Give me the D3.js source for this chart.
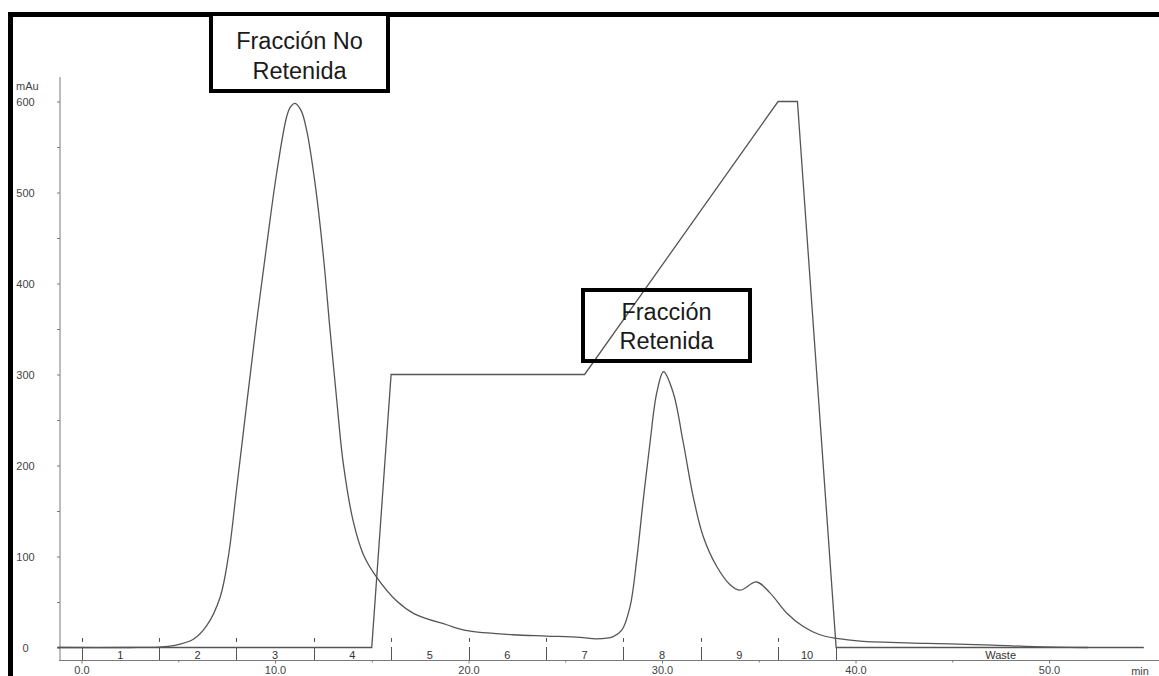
<!DOCTYPE html>
<html>
<head>
<meta charset="utf-8">
<script src="https://cdn.jsdelivr.net/npm/d3@7"></script>
<style>
  body { margin: 0; background: #fff; }
  svg { display: block; font-family: "Liberation Sans", Arial, sans-serif; }
</style>
</head>
<body>
<svg width="1159" height="676"></svg>
<script>
// chromatogram trace, [min, mAu]
const uvTrace = [
  [-1.2, 0], [2.5, 0], [4.0, 0.5], [4.74, 2], [5.78, 9], [6.47, 24], [7.16, 55], [7.59, 100],
  [8.02, 175], [8.54, 268], [9.05, 358], [9.57, 442], [10.09, 522], [10.6, 583], [10.8, 594],
  [11.03, 598], [11.35, 590], [11.64, 568], [12.07, 510], [12.5, 430], [12.84, 350], [13.19, 272],
  [13.53, 202], [14.05, 138], [14.57, 102], [15.26, 77], [16.29, 51], [17.2, 37], [18.87, 25],
  [19.94, 18.5], [22.3, 14], [24.04, 12.6], [25.76, 11.2], [26.63, 9.5], [27.48, 12], [27.92, 19],
  [28.35, 45], [28.69, 96], [29.03, 162], [29.38, 225], [29.73, 280], [30.08, 303], [30.58, 280],
  [31.1, 225], [31.62, 165], [32.13, 122], [32.83, 89], [33.52, 69], [34.03, 63], [34.89, 72],
  [35.58, 60], [36.44, 38], [37.3, 23], [38.16, 14], [39.03, 10], [40.23, 7], [43.68, 4.6],
  [47.11, 2.7], [49.2, 1], [52.0, 0]
];

// gradient line, [min, mAu]
const gradient = [
  [-1.25, 0], [15, 0], [16, 300], [26, 300], [36, 600], [37, 600], [39, 0], [54.9, 0]
];

const fractionBreaks = [0, 4, 8, 12, 16, 20, 24, 28, 32, 36, 39, 56];
const fractionLabels = ['1', '2', '3', '4', '5', '6', '7', '8', '9', '10', 'Waste'];

const yTicks = [0, 100, 200, 300, 400, 500, 600];
const yMinorTicks = [50, 150, 250, 350, 450, 550];
const xTicks = [0, 10, 20, 30, 40, 50];
const xMinorTicks = [5, 15, 25, 35, 45];

const boxNoRetenida = ['Fracción No', 'Retenida'];
const boxRetenida = ['Fracción', 'Retenida'];

const svg = d3.select('svg');

const x = d3.scaleLinear().domain([0, 50]).range([81.5, 1049]);
const y = d3.scaleLinear().domain([0, 600]).range([647.5, 101.5]);

const axisColor = '#7a7a7a';
const textColor = '#444';

// outer frame
svg.append('path')
  .attr('d', 'M10.5,680 V14.5 H1165')
  .attr('fill', 'none')
  .attr('stroke', '#000')
  .attr('stroke-width', 5);

// y axis
svg.append('line')
  .attr('x1', 60).attr('x2', 60)
  .attr('y1', 77).attr('y2', 661)
  .attr('stroke', axisColor);

let yAxis = svg.append('g')
  .attr('transform', 'translate(60,0)')
  .call(d3.axisLeft(y).tickValues(yTicks).tickSize(3).tickFormat(d3.format('d')));
yAxis.select('.domain').remove();
yAxis.selectAll('line').attr('stroke', axisColor);
yAxis.selectAll('text')
  .attr('x', -34.5)
  .attr('text-anchor', 'middle')
  .attr('fill', textColor)
  .attr('font-size', '11px');

svg.append('g')
  .attr('transform', 'translate(60,0)')
  .call(d3.axisLeft(y).tickValues(yMinorTicks).tickSize(3).tickFormat(''))
  .call(g => g.select('.domain').remove())
  .selectAll('line').attr('stroke', axisColor);

svg.append('text')
  .attr('x', 16).attr('y', 90)
  .attr('fill', textColor)
  .attr('font-size', '11px')
  .text('mAu');

// x axis
svg.append('line')
  .attr('x1', 59).attr('x2', 1159)
  .attr('y1', 660.5).attr('y2', 660.5)
  .attr('stroke', axisColor);

let xAxis = svg.append('g')
  .attr('transform', 'translate(0,660.5)')
  .call(d3.axisBottom(x).tickValues(xTicks).tickSize(3).tickPadding(3).tickFormat(d3.format('.1f')));
xAxis.select('.domain').remove();
xAxis.selectAll('line').attr('stroke', axisColor);
xAxis.selectAll('text')
  .attr('fill', textColor)
  .attr('font-size', '11px');

svg.append('g')
  .attr('transform', 'translate(0,660.5)')
  .call(d3.axisBottom(x).tickValues(xMinorTicks).tickSize(2).tickFormat(''))
  .call(g => g.select('.domain').remove())
  .selectAll('line').attr('stroke', axisColor);

svg.append('text')
  .attr('x', 1140).attr('y', 674.5)
  .attr('text-anchor', 'middle')
  .attr('fill', textColor)
  .attr('font-size', '11px')
  .text('min');

// fraction dividers and labels
let fractions = svg.append('g');
fractions.selectAll('line.div')
  .data(fractionBreaks.slice(0, -1))
  .enter()
  .append('line')
    .attr('class', 'div')
    .attr('x1', d => Math.round(x(d)) + 0.5)
    .attr('x2', d => Math.round(x(d)) + 0.5)
    .attr('y1', 647)
    .attr('y2', 660)
    .attr('stroke', '#555');

fractions.selectAll('line.dash')
  .data(fractionBreaks.slice(0, -2))
  .enter()
  .append('line')
    .attr('class', 'dash')
    .attr('x1', d => Math.round(x(d)) + 0.5)
    .attr('x2', d => Math.round(x(d)) + 0.5)
    .attr('y1', 638)
    .attr('y2', 642)
    .attr('stroke', '#555');

fractions.selectAll('text')
  .data(fractionLabels)
  .enter()
  .append('text')
    .attr('x', (d, i) => x((fractionBreaks[i] + fractionBreaks[i + 1]) / 2))
    .attr('y', 659)
    .attr('text-anchor', 'middle')
    .attr('fill', '#333')
    .attr('font-size', '11px')
    .text(d => d);

// traces
const gradientLine = d3.line()
  .x(d => x(d[0]))
  .y(d => y(d[1]));

const traceLine = d3.line()
  .x(d => x(d[0]))
  .y(d => y(d[1]))
  .curve(d3.curveCatmullRom.alpha(0.5));

svg.append('path')
  .datum(gradient)
  .attr('d', gradientLine)
  .attr('fill', 'none')
  .attr('stroke', '#555')
  .attr('stroke-width', 1.3);

svg.append('path')
  .datum(uvTrace)
  .attr('d', traceLine)
  .attr('fill', 'none')
  .attr('stroke', '#555')
  .attr('stroke-width', 1.3);

// annotation boxes
function drawBox(lines, bx, by, bw, bh, fill, textX, baseline, gap) {
  svg.append('rect')
    .attr('x', bx).attr('y', by)
    .attr('width', bw).attr('height', bh)
    .attr('fill', fill)
    .attr('stroke', '#000')
    .attr('stroke-width', 4);

  svg.append('g').selectAll('text')
    .data(lines)
    .enter()
    .append('text')
      .attr('x', textX)
      .attr('y', (d, i) => baseline + i * gap)
      .attr('text-anchor', 'middle')
      .attr('fill', '#1a1a1a')
      .attr('font-size', '23.5px')
      .text(d => d);
}

drawBox(boxNoRetenida, 211, 14, 177, 77, '#fff', 299.5, 49, 30);
drawBox(boxRetenida, 583, 290, 167, 71, 'none', 666.5, 320, 28.5);
</script>
</body>
</html>
